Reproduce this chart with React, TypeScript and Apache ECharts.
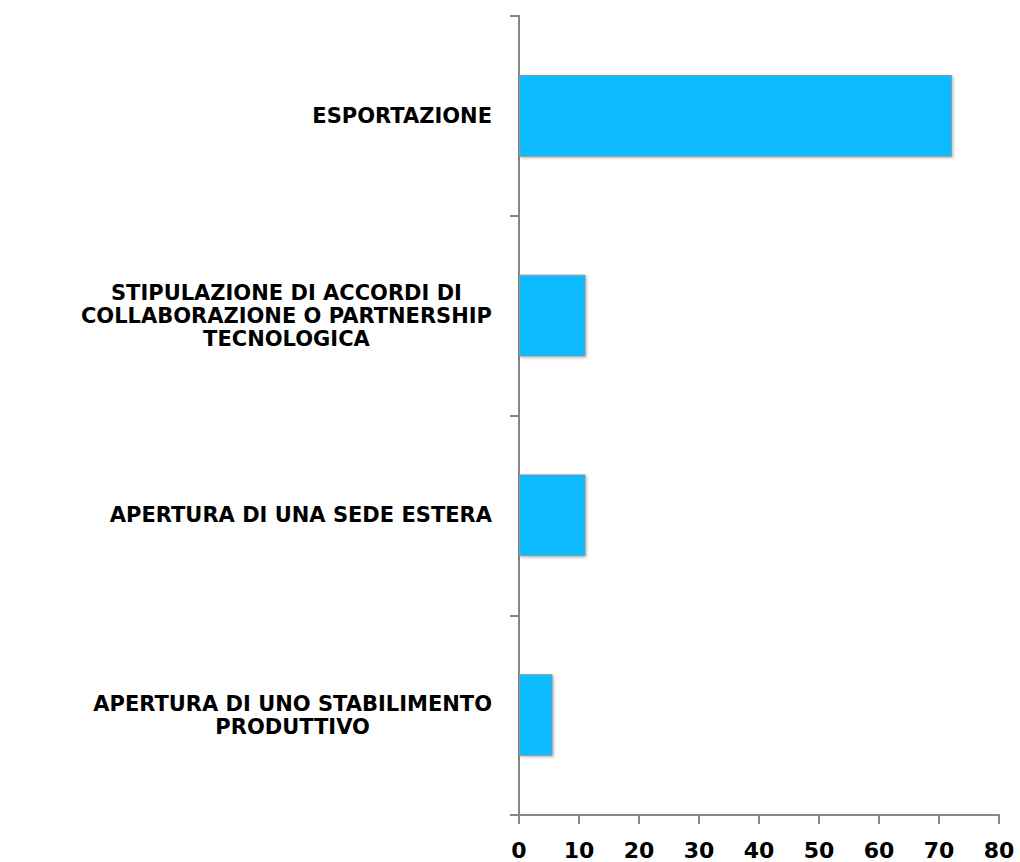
import React, { useEffect, useRef } from "react";
import * as echarts from "echarts";

const categories = [
  "ESPORTAZIONE",
  "STIPULAZIONE DI ACCORDI DI\nCOLLABORAZIONE O PARTNERSHIP\nTECNOLOGICA",
  "APERTURA DI UNA SEDE ESTERA",
  "APERTURA DI UNO STABILIMENTO\nPRODUTTIVO",
];
const values = [72.2, 11.1, 11.1, 5.6];
const xTicks = { min: 0, max: 80, interval: 10 };

export default function App() {
  const ref = useRef<HTMLDivElement>(null);
  useEffect(() => {
    if (!ref.current) return;
    const chart = echarts.init(ref.current, null, { renderer: "svg" });
    chart.setOption({
      animation: false,
      backgroundColor: "#ffffff",
      grid: {
        left: 519,
        top: 16,
        width: 480,
        height: 799,
        containLabel: false,
        outerBoundsMode: "none",
      },
      xAxis: {
        type: "value",
        min: xTicks.min,
        max: xTicks.max,
        interval: xTicks.interval,
        splitLine: { show: false },
        axisLine: { show: true, lineStyle: { color: "#868686", width: 2 } },
        axisTick: { show: true, length: 9, lineStyle: { color: "#868686", width: 2 } },
        axisLabel: {
          margin: 24,
          color: "#000",
          fontFamily: "DejaVu Sans",
          fontWeight: "bold",
          fontSize: 22,
        },
      },
      yAxis: {
        type: "category",
        data: categories,
        inverse: true,
        axisLine: { show: true, lineStyle: { color: "#868686", width: 2 } },
        axisTick: { show: true, length: 9, alignWithLabel: false, lineStyle: { color: "#868686", width: 2 } },
        splitLine: { show: false },
        axisLabel: {
          margin: 27,
          align: "right",
          formatter: (v: string) =>
            v
              .split("\n")
              .map((l) => `{c|${l}}`)
              .join("\n"),
          rich: {
            c: {
              align: "center",
              color: "#000",
              fontFamily: "DejaVu Sans",
              fontWeight: "bold",
              fontSize: 21,
              lineHeight: 23,
            },
          },
        },
      },
      series: [
        {
          type: "bar",
          data: values,
          barWidth: "41%",
          itemStyle: {
            color: "#0ABBFF",
            borderColor: "#8C9CA4",
            borderWidth: 1,
            shadowColor: "rgba(0,0,0,0.3)",
            shadowBlur: 3,
            shadowOffsetX: 1,
            shadowOffsetY: 1,
          },
        },
      ],
    });
    return () => chart.dispose();
  }, []);
  return (
    <div
      ref={ref}
      style={{ position: "absolute", left: 0, top: 0, width: 1020, height: 862 }}
    />
  );
}
